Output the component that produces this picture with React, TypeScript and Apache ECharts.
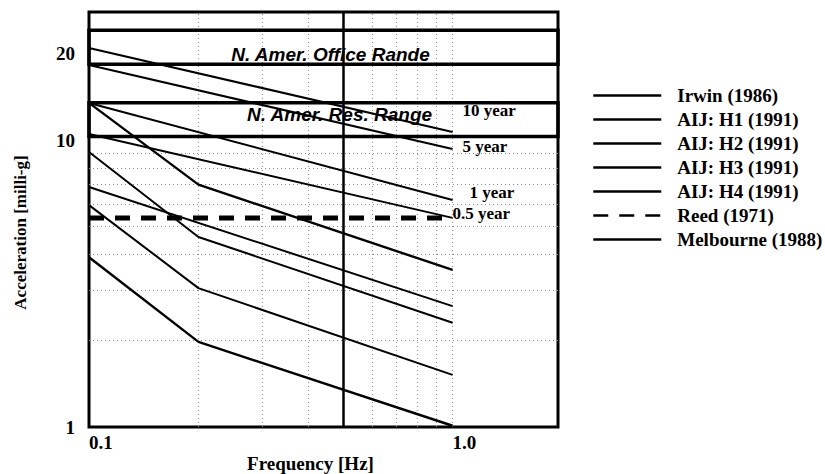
import React, { useEffect, useRef } from 'react';
import * as echarts from 'echarts';

// ---------- data ----------
const xTickValues = [0.1, 1.0];
const xTickTexts = ['0.1', '1.0'];
const yTickValuesBase10 = [1, 10];
const yTickValuesBase20 = [20];

const irwinFreq = [0.1, 1.0];
const irwinAcc = [6.87, 2.64];

const aijFreq = [0.1, 0.2, 1.0];
const aijH1 = [13.5, 7.0, 3.53];
const aijH2 = [9.1, 4.6, 2.31];
const aijH3 = [5.94, 3.05, 1.52];
const aijH4 = [3.91, 1.98, 1.01];

const reedFreq = [0.1, 1.0];
const reedAcc = [5.36, 5.36];

const melbFreq = [0.1, 1.0];
const melbNames = ['10 year', '5 year', '1 year', '0.5 year'];
const melb10 = [20.97, 10.68];
const melb5 = [18.29, 9.32];
const melb1 = [13.48, 6.19];
const melb05 = [10.51, 5.36];

const officeRange = [18.4, 24.2];
const resRange = [10.3, 13.5];
const rangeNames = ['N. Amer. Office Rande', 'N. Amer. Res. Range'];

const xGridLines = [0.2, 0.3, 0.4, 0.6, 0.7, 0.8, 0.9, 1.0];
const boldX = 0.5;
const yGridLines = [2, 3, 4, 5, 6, 7, 8, 9];

const legendNames = [
  'Irwin (1986)',
  'AIJ: H1 (1991)',
  'AIJ: H2 (1991)',
  'AIJ: H3 (1991)',
  'AIJ: H4 (1991)',
  'Reed (1971)',
  'Melbourne (1988)',
];

// ---------- helpers ----------
const zip = (xs: number[], ys: number[]) => xs.map((x, i) => [x, ys[i]]);
const SERIF = '"Liberation Serif", "Times New Roman", serif';
const SANS = '"Liberation Sans", Arial, sans-serif';
const near = (v: number, list: number[]) => list.findIndex((t) => Math.abs(v - t) / t < 1e-3);

export default function App() {
  const ref = useRef<HTMLDivElement>(null);
  useEffect(() => {
    if (!ref.current) return;
    const chart = echarts.init(ref.current, null, { renderer: 'svg' });

    const solid = (name: string, data: number[][], width = 2) => ({
      name,
      type: 'line',
      data,
      symbol: 'none',
      silent: true,
      lineStyle: { color: '#000', width, type: 'solid' },
      itemStyle: { color: '#000' },
      z: 3,
    });

    const melbOffsets = [
      [10, -22],
      [10, -3],
      [17, -7],
      [0, -4],
    ];
    const melbData = [melb10, melb5, melb1, melb05];
    const melbSeries = melbData.map((acc, i) => ({
      ...solid('Melbourne (1988)', zip(melbFreq, acc), 2),
      endLabel: {
        show: true,
        formatter: melbNames[i],
        distance: 0,
        align: 'left',
        verticalAlign: 'middle',
        offset: melbOffsets[i],
        fontFamily: SERIF,
        fontWeight: 'bold',
        fontSize: 17,
        color: '#000',
      },
    }));

    const option: any = {
      animation: false,
      backgroundColor: '#fff',
      grid: {
        left: 89,
        right: 267,
        top: 12,
        bottom: 47,
        show: true,
        borderColor: '#000',
        borderWidth: 3,
        backgroundColor: 'transparent',
        containLabel: false,
        outerBoundsMode: 'none',
      },
      legend: {
        orient: 'vertical',
        left: 587,
        top: 81,
        itemWidth: 68,
        itemHeight: 14,
        itemGap: 5,
        data: legendNames,
        selectedMode: false,
        itemStyle: { opacity: 0 },
        lineStyle: { width: 2.5 },
        textStyle: {
          fontFamily: SERIF,
          fontWeight: 'bold',
          fontSize: 19,
          color: '#000',
          padding: [0, 0, 0, 11],
        },
      },
      xAxis: {
        type: 'log',
        logBase: 10,
        min: 0.1,
        max: 1.95,
        name: 'Frequency [Hz]',
        nameLocation: 'middle',
        nameMoveOverlap: false,
        nameGap: 27,
        nameTextStyle: {
          fontFamily: SERIF,
          fontWeight: 'bold',
          fontSize: 19,
          color: '#000',
          padding: [0, 26, 0, 0],
        },
        axisLine: { show: false },
        axisTick: { show: false },
        splitLine: { show: false },
        minorTick: { show: false },
        axisLabel: {
          margin: 6,
          align: 'left',
          fontFamily: SERIF,
          fontWeight: 'bold',
          fontSize: 19,
          color: '#000',
          showMaxLabel: false,
          formatter: (v: number) => {
            const i = near(v, xTickValues);
            return i >= 0 ? xTickTexts[i] : '';
          },
        },
      },
      yAxis: [
        {
          type: 'log',
          logBase: 10,
          min: 1,
          max: 28,
          name: 'Acceleration [milli-g]',
          nameLocation: 'middle',
          nameMoveOverlap: false,
          nameGap: 60,
          nameTextStyle: {
            fontFamily: SERIF,
            fontWeight: 'bold',
            fontSize: 17,
            color: '#000',
            padding: [0, 26, 0, 0],
          },
          axisLine: { show: false },
          axisTick: { show: false },
          splitLine: { show: false },
          axisLabel: {
            margin: 14,
            fontFamily: SERIF,
            fontWeight: 'bold',
            fontSize: 19,
            color: '#000',
            formatter: (v: number) => {
              const i = near(v, yTickValuesBase10);
              return i >= 0 ? String(yTickValuesBase10[i]) : '';
            },
          },
        },
        {
          type: 'log',
          logBase: 20,
          min: 1,
          max: 28,
          position: 'left',
          axisLine: { show: false },
          axisTick: { show: false },
          splitLine: { show: false },
          axisLabel: {
            margin: 14,
            fontFamily: SERIF,
            fontWeight: 'bold',
            fontSize: 19,
            color: '#000',
            formatter: (v: number) => {
              const i = near(v, yTickValuesBase20);
              return i >= 0 ? String(yTickValuesBase20[i]) : '';
            },
          },
        },
      ],
      series: [
        {
          name: 'Reed (1971)',
          type: 'line',
          data: zip(reedFreq, reedAcc),
          symbol: 'none',
          silent: true,
          lineStyle: { color: '#000', width: 5, type: [15, 11] },
          itemStyle: { color: '#000' },
          z: 3,
          markLine: {
            silent: true,
            symbol: ['none', 'none'],
            z: 1,
            label: { show: false },
            lineStyle: { color: '#8a8a8a', width: 1, type: [1, 3] },
            data: [
              ...xGridLines.map((v) => ({ xAxis: v })),
              ...yGridLines.map((v) => ({ yAxis: v })),
              { xAxis: boldX, lineStyle: { color: '#000', width: 2.5, type: 'solid' } },
            ],
          },
          markArea: {
            silent: true,
            z: 2,
            itemStyle: { color: 'rgba(0,0,0,0)', borderColor: '#000', borderWidth: 3.5 },
            label: {
              show: true,
              position: 'inside',
              fontFamily: SANS,
              fontStyle: 'italic',
              fontWeight: 'bold',
              fontSize: 19,
              color: '#000',
            },
            data: [
              [
                { yAxis: officeRange[0], name: rangeNames[0], label: { offset: [7, 7] } },
                { yAxis: officeRange[1] },
              ],
              [
                { yAxis: resRange[0], name: rangeNames[1], label: { offset: [16, -5] } },
                { yAxis: resRange[1] },
              ],
            ],
          },
        },
        solid('Irwin (1986)', zip(irwinFreq, irwinAcc), 2),
        solid('AIJ: H1 (1991)', zip(aijFreq, aijH1), 2.4),
        solid('AIJ: H2 (1991)', zip(aijFreq, aijH2), 2),
        solid('AIJ: H3 (1991)', zip(aijFreq, aijH3), 2),
        solid('AIJ: H4 (1991)', zip(aijFreq, aijH4), 2.4),
        ...melbSeries,
      ],
    };
    chart.setOption(option);
    return () => chart.dispose();
  }, []);

  return (
    <div
      ref={ref}
      style={{ position: 'absolute', left: 0, top: 0, width: 825, height: 474, background: '#fff' }}
    />
  );
}
